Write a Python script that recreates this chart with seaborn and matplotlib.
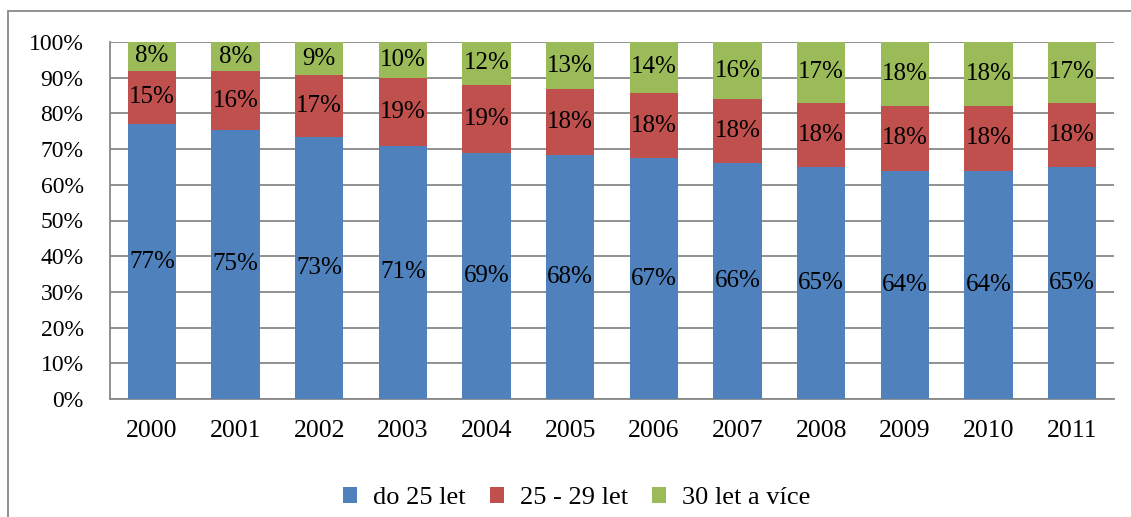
import matplotlib
matplotlib.use("Agg")
import matplotlib.pyplot as plt
from matplotlib.patches import Rectangle
import seaborn as sns
import pandas as pd
import numpy as np

years = ["2000", "2001", "2002", "2003", "2004", "2005",
         "2006", "2007", "2008", "2009", "2010", "2011"]
do_25 = [77, 75.4, 73.4, 71, 69, 68.4, 67.4, 66, 65, 64, 64, 65]
od_25_29 = [15, 16.4, 17.3, 19, 19, 18.4, 18.4, 18, 18, 18, 18, 18]
od_30 = [8, 8.2, 9.3, 10, 12, 13.2, 14.2, 16, 17, 18, 18, 17]
labels = ["do 25 let", "25 - 29 let", "30 let a více"]
colors = ["#4F81BD", "#C0504D", "#9BBB59"]

df = pd.DataFrame({"year": years, "a": do_25, "b": od_25_29, "c": od_30})
df["top_a"] = df["a"] / 100
df["top_b"] = (df["a"] + df["b"]) / 100
df["top_c"] = (df["a"] + df["b"] + df["c"]) / 100

sns.set_style("white")
plt.rcParams["font.family"] = ["Liberation Serif", "DejaVu Serif"]
plt.rcParams["text.color"] = "black"
plt.rcParams["xtick.color"] = "black"
plt.rcParams["ytick.color"] = "black"

fig = plt.figure(figsize=(11.31, 5.17), dpi=100)
ax = fig.add_axes([110 / 1131, 118 / 517, 1004 / 1131, 357 / 517])

# stacked by drawing cumulative totals back to front
sns.barplot(data=df, x="year", y="top_c", color=colors[2], width=0.575,
            saturation=1, ax=ax, label=labels[2], zorder=3, linewidth=0)
sns.barplot(data=df, x="year", y="top_b", color=colors[1], width=0.575,
            saturation=1, ax=ax, label=labels[1], zorder=3, linewidth=0)
sns.barplot(data=df, x="year", y="top_a", color=colors[0], width=0.575,
            saturation=1, ax=ax, label=labels[0], zorder=3, linewidth=0)

handles, lbls = ax.get_legend_handles_labels()
if ax.get_legend() is not None:
    ax.get_legend().remove()

for i in range(len(years)):
    a, b, c = df.loc[i, "top_a"], df.loc[i, "top_b"], df.loc[i, "top_c"]
    ax.text(i, a / 2, f"{do_25[i]:.0f}%", ha="center", va="center", fontsize=18, zorder=5)
    ax.text(i, (a + b) / 2, f"{od_25_29[i]:.0f}%", ha="center", va="center", fontsize=18, zorder=5)
    ax.text(i, (b + c) / 2, f"{od_30[i]:.0f}%", ha="center", va="center", fontsize=18, zorder=5)

ax.set_ylim(0, 1)
ax.set_xlim(-0.5, len(years) - 0.5)
ax.set_yticks(np.arange(0, 1.01, 0.1))
ax.set_yticklabels([f"{int(round(v * 100))}%" for v in np.arange(0, 1.01, 0.1)])
ax.yaxis.grid(True, color="#888888", linewidth=1.3, zorder=0)
ax.set_axisbelow(True)
ax.set_xlabel("")
ax.set_ylabel("")
ax.tick_params(axis="both", length=0)
ax.tick_params(axis="x", labelsize=18.5, pad=15)
ax.tick_params(axis="y", labelsize=17, pad=19)
for s in ["top", "right"]:
    ax.spines[s].set_visible(False)
for s in ["left", "bottom"]:
    ax.spines[s].set_color("#888888")
    ax.spines[s].set_linewidth(1.3)

order = [lbls.index(l) for l in labels]
fig.legend([handles[k] for k in order], [lbls[k] for k in order],
           loc="center", bbox_to_anchor=(0.51, 19 / 517), ncol=3, frameon=False,
           fontsize=19, handlelength=0.55, handleheight=0.55, handletextpad=0.6,
           columnspacing=0.9)

fig.add_artist(Rectangle((8 / 1131, -0.5), 1.5, 0.5 + 1 - 11 / 517,
                         transform=fig.transFigure, fill=False,
                         edgecolor="#888888", linewidth=1.3))

fig.savefig("out.png", dpi=100)
